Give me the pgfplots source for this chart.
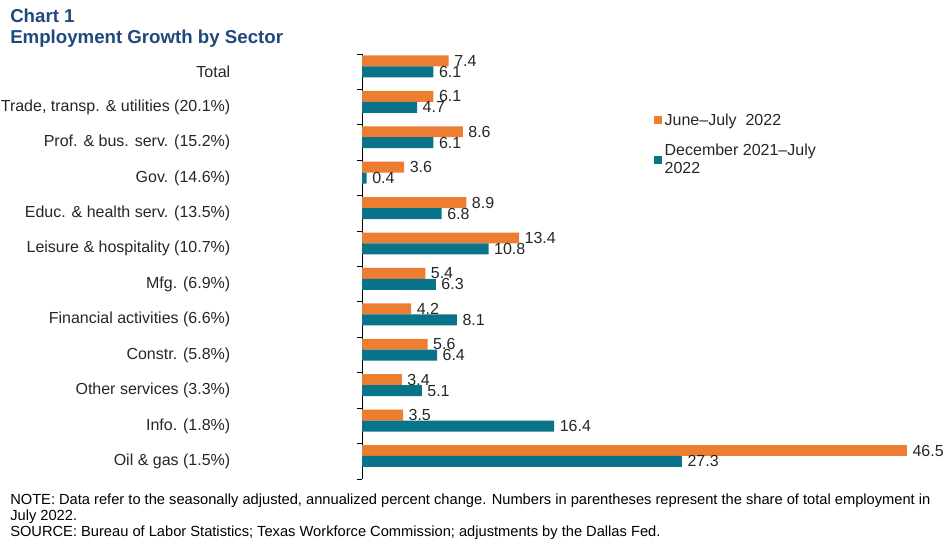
\documentclass[border=0pt]{standalone}
\usepackage{fontspec}
\setmainfont{Liberation Sans}
\usepackage{pgfplots}
\usepackage{pgfplotstable}
\pgfplotsset{compat=1.18}
\definecolor{barorange}{RGB}{237,125,49}
\definecolor{barteal}{RGB}{8,115,137}
\definecolor{titleblue}{RGB}{31,73,125}
\definecolor{txt}{RGB}{38,38,38}

\pgfplotstableread{
idx june dec
0 7.4 6.1
1 6.1 4.7
2 8.6 6.1
3 3.6 0.4
4 8.9 6.8
5 13.4 10.8
6 5.4 6.3
7 4.2 8.1
8 5.6 6.4
9 3.4 5.1
10 3.5 16.4
11 46.5 27.3
}\data

\begin{document}
\begin{tikzpicture}
\path[use as bounding box] (0pt,0pt) rectangle (711pt,-405pt);
\begin{axis}[
  at={(271.5pt,-40.5pt)}, anchor=north west,
  scale only axis, width=439.5pt, height=318.75pt,
  xmin=0, xmax=50, ymin=-0.5, ymax=11.5, y dir=reverse,
  axis x line=none, axis y line=left,
  axis line style={-, black, line width=0.75pt},
  ytick={0,...,11},
  yticklabels={Total, {Trade, transp. \& utilities (20.1\%)}, {Prof. \& bus. serv. (15.2\%)}, {Gov. (14.6\%)}, {Educ. \& health serv. (13.5\%)}, {Leisure \& hospitality (10.7\%)}, {Mfg. (6.9\%)}, {Financial activities (6.6\%)}, {Constr. (5.8\%)}, {Other services (3.3\%)}, {Info. (1.8\%)}, {Oil \& gas (1.5\%)}},
  major tick length=0pt,
  minor ytick={-0.5,0.5,...,11.5},
  minor tick length=3.75pt, tick align=outside,
  minor tick style={black, line width=0.75pt},
  yticklabel style={font=\fontsize{12}{14}\selectfont, text=txt, anchor=east, inner sep=0pt, xshift=-98.6pt},
  /pgf/number format/assume math mode=true,
  xbar, bar width=0.31,
  point meta=x,
  nodes near coords={\pgfmathprintnumber[fixed,fixed zerofill,precision=1]{\pgfplotspointmeta}},
  nodes near coords style={anchor=west, inner sep=0pt, xshift=4pt, font=\fontsize{12}{14}\selectfont, text=txt},
  clip=false,
  legend style={at={(axis cs:24.55,1.02)}, anchor=north west, draw=none, fill=none,
    font=\fontsize{12}{13.5}\selectfont, text=txt, row sep=9pt,
    cells={anchor=west, align=left}},
]
\addplot[fill=barorange, draw=none, bar shift=-0.305,
  legend image code/.code={\fill[barorange] (0pt,-3pt) rectangle (6pt,3pt);}]
  table[x=june, y=idx]{\data};
\addplot[fill=barteal, draw=none, bar shift=0.005,
  legend image code/.code={\fill[barteal] (0pt,-3pt) rectangle (6pt,3pt);}]
  table[x=dec, y=idx]{\data};
\legend{June–July\ \ 2022, {December 2021–July\\2022}}
\end{axis}
\node[anchor=base west, inner sep=0pt, font=\fontsize{14}{16}\selectfont\bfseries, text=titleblue] at (7.5pt,-16.5pt) {Chart 1};
\node[anchor=base west, inner sep=0pt, font=\fontsize{14}{16}\selectfont\bfseries, text=titleblue] at (7.5pt,-32.25pt) {Employment Growth by Sector};
\node[anchor=base west, inner sep=0pt, font=\fontsize{11}{13}\selectfont, text=black] at (7.5pt,-378pt) {NOTE: Data refer to the seasonally adjusted, annualized percent change. Numbers in parentheses represent the share of total employment in};
\node[anchor=base west, inner sep=0pt, font=\fontsize{11}{13}\selectfont, text=black] at (7.5pt,-390pt) {July 2022.};
\node[anchor=base west, inner sep=0pt, font=\fontsize{11}{13}\selectfont, text=black] at (7.5pt,-402pt) {SOURCE: Bureau of Labor Statistics; Texas Workforce Commission; adjustments by the Dallas Fed.};
\end{tikzpicture}
\end{document}
